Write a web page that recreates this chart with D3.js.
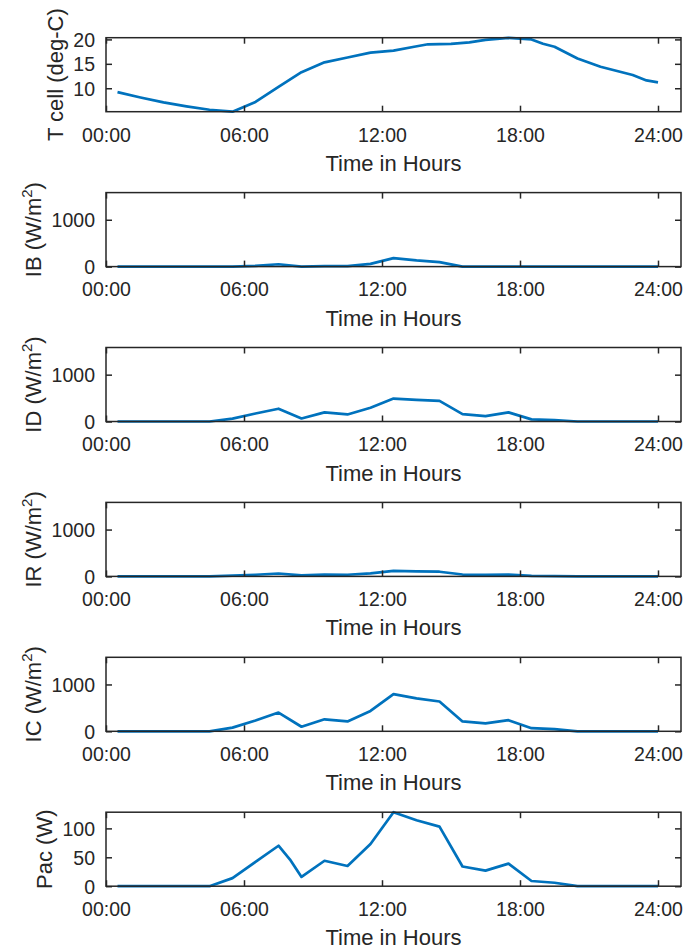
<!DOCTYPE html>
<html>
<head>
<meta charset="utf-8">
<script src="https://cdn.jsdelivr.net/npm/d3@7"></script>
<style>
  html, body { margin: 0; padding: 0; background: #ffffff; }
  svg { display: block; font-family: "Liberation Sans", Arial, Helvetica, sans-serif; }
</style>
</head>
<body>
<svg id="chart" width="685" height="952"></svg>
<script>
// Hourly sample times (hours of the day)
const hours = [0.5, 1.5, 2.5, 3.5, 4.5, 5.5, 6.5, 7.5, 8.5, 9.5, 10.5, 11.5, 12.5,
               13.5, 14.5, 15.5, 16.5, 17.5, 18.5, 19.5, 20.5, 21.5, 22.5, 23.5, 24];

// Cell temperature is logged on its own, slightly irregular time base
const tcellHours = [0.5, 1.5, 2.5, 3.5, 4.5, 5.5, 6.5, 7.5, 8.5, 9.5, 10.5, 11.5, 12.5,
                    13.4, 14.0, 15.0, 15.8, 16.5, 17.5, 18.5, 19.0, 19.5, 20.5, 21.5, 22.9, 23.5, 24];
const tcell = [9.2, 8.1, 7.1, 6.3, 5.6, 5.2, 7.2, 10.3, 13.3, 15.3, 16.3, 17.3, 17.7,
               18.5, 19.0, 19.1, 19.4, 19.9, 20.3, 20.0, 19.1, 18.5, 16.1, 14.4, 12.7, 11.6, 11.2];

// Beam, diffuse, reflected and total irradiance (W/m^2)
const ib = [0, 0, 0, 0, 0, 0, 15, 50, 0, 12, 10, 58, 182, 131, 95, 0, 0, 0, 0, 0, 0, 0, 0, 0, 0];
const id = [0, 0, 0, 0, 0, 60, 170, 273, 65, 194, 151, 295, 489, 461, 440, 159, 116, 194, 45, 28, 0, 0, 0, 0, 0];
const ir = [0, 0, 0, 0, 0, 15, 35, 62, 20, 40, 35, 65, 118, 108, 100, 40, 35, 40, 12, 8, 0, 0, 0, 0, 0];
const ic = [0, 0, 0, 0, 0, 78, 230, 400, 97, 256, 210, 435, 795, 702, 636, 210, 170, 238, 66, 48, 0, 0, 0, 0, 0];

// AC output power (W), with one extra reading at 08:00
const pacHours = [0.5, 1.5, 2.5, 3.5, 4.5, 5.5, 6.5, 7.5, 8.0, 8.5, 9.5, 10.5, 11.5, 12.5,
                  13.5, 14.5, 15.5, 16.5, 17.5, 18.5, 19.5, 20.5, 21.5, 22.5, 23.5, 24];
const pac = [0, 0, 0, 0, 0, 14, 42, 70, 46, 16, 44, 35, 73, 128, 114, 103, 34, 27, 39, 9, 6, 0, 0, 0, 0, 0];

// Axis ticks and labels
const xTicks = [0, 6, 12, 18, 24];
const xTickLabels = ["00:00", "06:00", "12:00", "18:00", "24:00"];
const xLabel = "Time in Hours";
const irrTicks = [0, 1000];
const tcellTicks = [10, 15, 20];
const pacTicks = [0, 50, 100];

const panels = [
  { x: tcellHours, y: tcell, domain: [5.2, 20.35], ticks: tcellTicks, label: ["T cell (deg-C)"] },
  { x: hours, y: ib, domain: [0, 1580], ticks: irrTicks, label: ["IB (W/m", "2", ")"] },
  { x: hours, y: id, domain: [0, 1580], ticks: irrTicks, label: ["ID (W/m", "2", ")"] },
  { x: hours, y: ir, domain: [0, 1580], ticks: irrTicks, label: ["IR (W/m", "2", ")"] },
  { x: hours, y: ic, domain: [0, 1580], ticks: irrTicks, label: ["IC (W/m", "2", ")"] },
  { x: pacHours, y: pac, domain: [0, 128], ticks: pacTicks, label: ["Pac (W)"] }
];

const svg = d3.select("#chart");
const ink = "#262626";
const lineColor = "#0072BD";
const left = 106, right = 681;
const firstTop = 37.7, step = 154.9, plotH = 74;
const tickFont = 19.5, labelFont = 22;

const x = d3.scaleLinear().domain([0, 25]).range([left, right]);

panels.forEach((p, i) => {
  const top = firstTop + i * step;
  const bottom = top + plotH;
  const y = d3.scaleLinear().domain(p.domain).range([bottom, top]);
  const g = svg.append("g");

  // data line
  const line = d3.line().x((d, k) => x(p.x[k])).y(d => y(d));
  g.append("path")
    .datum(p.y)
    .attr("d", line)
    .attr("fill", "none")
    .attr("stroke", lineColor)
    .attr("stroke-width", 2.7)
    .attr("stroke-linejoin", "round");

  // bottom axis with labels, top axis with inward ticks only
  const xb = g.append("g").attr("transform", `translate(0,${bottom})`)
    .call(d3.axisBottom(x).tickValues(xTicks).tickSizeInner(-6).tickSizeOuter(0)
      .tickFormat((d, k) => xTickLabels[k]).tickPadding(16));
  const xt = g.append("g").attr("transform", `translate(0,${top})`)
    .call(d3.axisTop(x).tickValues(xTicks).tickSizeInner(-6).tickSizeOuter(0).tickFormat(""));

  // left axis with labels, right axis with inward ticks only
  const yl = g.append("g").attr("transform", `translate(${left},0)`)
    .call(d3.axisLeft(y).tickValues(p.ticks).tickSizeInner(-6).tickSizeOuter(0).tickPadding(11)
      .tickFormat(d3.format("d")));
  const yr = g.append("g").attr("transform", `translate(${right},0)`)
    .call(d3.axisRight(y).tickValues(p.ticks).tickSizeInner(-6).tickSizeOuter(0).tickFormat(""));

  [xb, xt, yl, yr].forEach(a => {
    a.select(".domain").remove();
    a.selectAll(".tick line").attr("stroke", ink).attr("stroke-width", 1.5);
    a.selectAll("text").attr("fill", ink).attr("font-size", tickFont)
      .attr("font-family", "Liberation Sans, Arial, sans-serif");
  });
  xb.selectAll(".tick text").attr("y", 16).attr("dy", "0.71em");
  yl.selectAll(".tick text").attr("x", -11).attr("dy", "0.36em");

  // axes box
  g.append("rect")
    .attr("x", left).attr("y", top)
    .attr("width", right - left).attr("height", plotH)
    .attr("fill", "none").attr("stroke", ink).attr("stroke-width", 1.5);

  // x label
  g.append("text")
    .attr("x", (left + right) / 2)
    .attr("y", bottom + 59)
    .attr("text-anchor", "middle")
    .attr("fill", ink)
    .attr("font-size", labelFont)
    .text(xLabel);

  // y label, placed just left of the widest tick label
  let maxW = 0;
  yl.selectAll(".tick text").each(function () {
    maxW = Math.max(maxW, this.getBBox().width);
  });
  const labelX = left - 11 - maxW - 10;
  const yt = g.append("text")
    .attr("transform", `translate(${labelX},${(top + bottom) / 2}) rotate(-90)`)
    .attr("text-anchor", "middle")
    .attr("fill", ink)
    .attr("font-size", labelFont);
  yt.append("tspan").text(p.label[0]);
  if (p.label.length > 1) {
    yt.append("tspan").attr("dy", -9).attr("font-size", 15).text(p.label[1]);
    yt.append("tspan").attr("dy", 9).text(p.label[2]);
  }
});
</script>
</body>
</html>
